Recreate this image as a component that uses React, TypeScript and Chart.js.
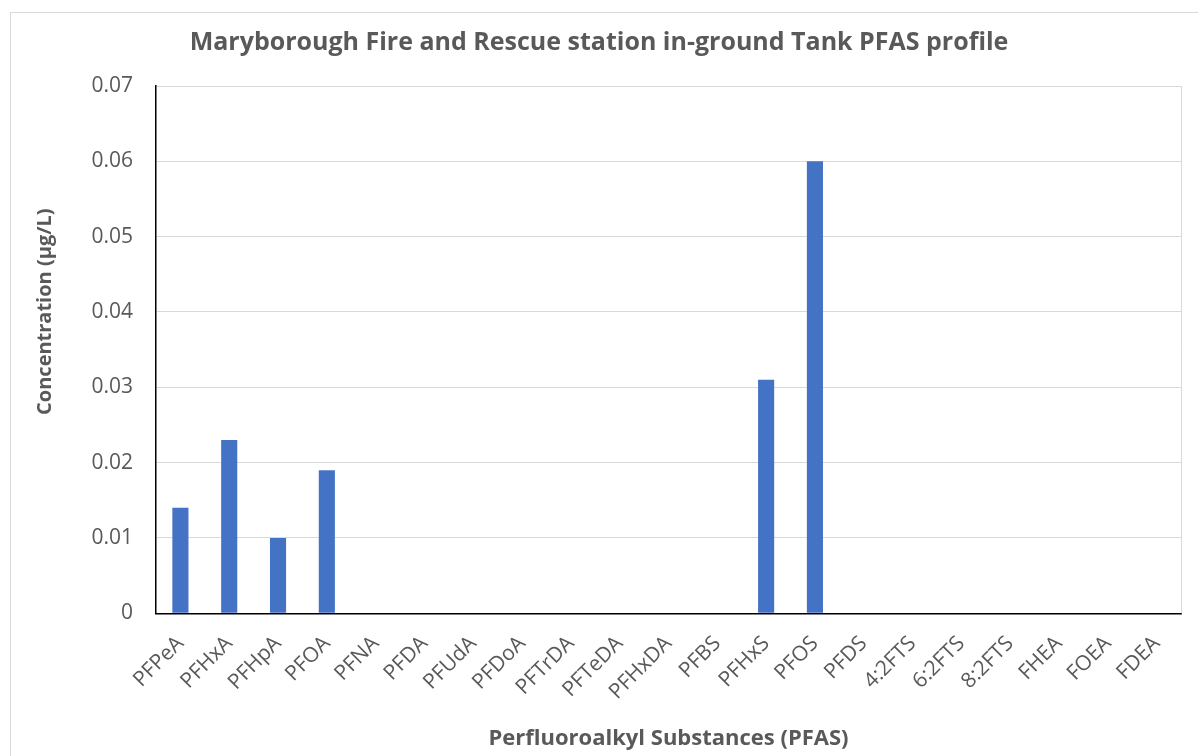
import React, { useEffect, useRef } from "react";
import { Chart, registerables } from "chart.js";

Chart.register(...registerables);

const categories = [
  "PFPeA", "PFHxA", "PFHpA", "PFOA", "PFNA", "PFDA", "PFUdA", "PFDoA", "PFTrDA", "PFTeDA",
  "PFHxDA", "PFBS", "PFHxS", "PFOS", "PFDS", "4:2FTS", "6:2FTS", "8:2FTS", "FHEA", "FOEA", "FDEA",
];
const concentration = [
  0.014, 0.023, 0.010, 0.019, 0, 0, 0, 0, 0, 0,
  0, 0, 0.031, 0.060, 0, 0, 0, 0, 0, 0, 0,
];
const yTicks = [0, 0.01, 0.02, 0.03, 0.04, 0.05, 0.06, 0.07];

const titleText = "Maryborough Fire and Rescue station in-ground Tank PFAS profile";
const xTitle = "Perfluoroalkyl Substances (PFAS)";
const yTitle = "Concentration (µg/L)";

const FONT = "'Open Sans', 'DejaVu Sans', sans-serif";
const GREY = "#595959";

const extras = {
  id: "extras",
  afterDraw(chart: any) {
    const { ctx, chartArea } = chart;
    ctx.save();
    // right edge of plot area
    ctx.strokeStyle = "#d9d9d9";
    ctx.lineWidth = 1;
    ctx.beginPath();
    ctx.moveTo(chartArea.right + 0.5, chartArea.top);
    ctx.lineTo(chartArea.right + 0.5, chartArea.bottom);
    ctx.stroke();
    // y axis title
    ctx.translate(45, chartArea.top + (chartArea.bottom - chartArea.top) * 0.428);
    ctx.rotate(-Math.PI / 2);
    ctx.fillStyle = GREY;
    ctx.font = `bold 20px ${FONT}`;
    ctx.textAlign = "center";
    ctx.textBaseline = "middle";
    ctx.fillText(yTitle, 0, 0);
    ctx.restore();
  },
};

export default function App() {
  const ref = useRef<HTMLCanvasElement | null>(null);

  useEffect(() => {
    document.body.style.margin = "0";
    document.body.style.overflow = "hidden";
    const chart = new Chart(ref.current!, {
      type: "bar",
      data: {
        labels: categories,
        datasets: [
          {
            data: concentration,
            backgroundColor: "#4472C4",
            barPercentage: 0.33,
            categoryPercentage: 1,
          },
        ],
      },
      plugins: [extras],
      options: {
        animation: false,
        responsive: false,
        layout: { padding: { left: 17, right: 17, top: 14, bottom: 4 } },
        plugins: {
          legend: { display: false },
          tooltip: { enabled: false },
          title: {
            display: true,
            text: titleText,
            color: GREY,
            font: { family: FONT, size: 25, weight: "bold" },
            padding: { top: 14, bottom: 28 },
          },
        },
        scales: {
          x: {
            grid: { display: false, drawTicks: false },
            border: { display: true, color: "#000000", width: 1.5 },
            ticks: {
              color: GREY,
              font: { family: FONT, size: 21 },
              maxRotation: 45,
              minRotation: 45,
              padding: 18,
              autoSkip: false,
            },
            title: {
              display: true,
              text: xTitle,
              color: GREY,
              font: { family: FONT, size: 22, weight: "bold" },
              padding: { top: 3, bottom: 0 },
            },
          },
          y: {
            min: 0,
            max: 0.07,
            afterBuildTicks: (axis: any) => {
              axis.ticks = yTicks.map((v) => ({ value: v }));
            },
            afterFit: (axis: any) => {
              axis.width = 139;
            },
            grid: { color: "#d9d9d9", drawTicks: false },
            border: { display: true, color: "#000000", width: 1.5 },
            ticks: {
              color: GREY,
              font: { family: FONT, size: 21 },
              padding: 23,
              callback: (v: any) => String(Math.round(Number(v) * 100) / 100),
            },
          },
        },
      },
    });
    return () => chart.destroy();
  }, []);

  return (
    <div style={{ position: "absolute", left: 0, top: 0, width: 1198, height: 756, background: "#fff", overflow: "hidden" }}>
      <div
        style={{
          position: "absolute",
          left: 10,
          top: 12,
          width: 1200,
          height: 760,
          border: "1px solid #d9d9d9",
          boxSizing: "border-box",
        }}
      />
      <canvas ref={ref} width={1198} height={756} style={{ position: "absolute", left: 0, top: 0, display: "block" }} />
    </div>
  );
}
